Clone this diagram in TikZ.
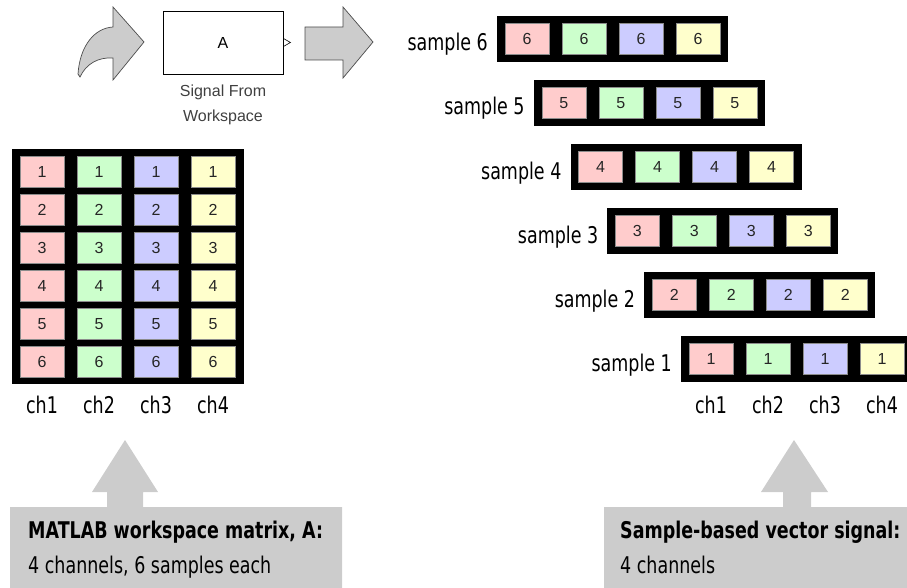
\documentclass[tikz,border=0pt]{standalone}
\usepackage{fontspec}
\setmainfont{Liberation Sans}
\newfontfamily\narrowfont[FakeStretch=0.76]{DejaVu Sans}
\usetikzlibrary{positioning}

\definecolor{chone}{HTML}{FFCCCC}
\definecolor{chtwo}{HTML}{CCFFCC}
\definecolor{chthree}{HTML}{CCCCFF}
\definecolor{chfour}{HTML}{FFFFCC}
\definecolor{notegray}{HTML}{CCCCCC}

\tikzset{
  cell/.style={draw=black!45, line width=0.6pt, minimum width=44pt, minimum height=31pt,
    inner sep=0pt, font=\fontsize{16}{16}\selectfont, text=black!85},
  lbl/.style={font=\narrowfont\fontsize{23}{26}\selectfont, inner sep=0pt},
  bigarrow/.style={fill=notegray, draw=black!70, line width=0.7pt},
}

\begin{document}
\begin{tikzpicture}[x=1pt,y=-1pt]

            \useasboundingbox (0,0) rectangle (907,588);

            % top row: arrow, block, arrow
            \draw[bigarrow] (78,74) .. controls (80,45) and (95,28) .. (113,27) -- (113,7) -- (144,42) -- (113,80) -- (113,58) .. controls (98,57) and (86,64) .. (80,77) -- cycle;
            \node[draw, line width=0.9pt, minimum width=120pt, minimum height=63pt, inner sep=0pt,
                  font=\fontsize{16}{16}\selectfont] (sfw) at (223,42.5) {A};
            \draw[line width=0.6pt] ([yshift=4pt]sfw.east) -- ([xshift=7pt]sfw.east) -- ([yshift=-4pt]sfw.east);
            \node[below=10pt of sfw, align=center, inner sep=0pt, text=black!75,
                  font=\fontsize{16}{25}\selectfont] (sfwlabel) {Signal From\\Workspace};
            \draw[bigarrow] (305,27) -- (343,27) -- (343,7) -- (373,42) -- (343,78) -- (343,60) -- (305,60) -- cycle;

            % workspace matrix
            \fill (12,149) rectangle (244,384);
            \foreach \c [count=\i] in {chone,chtwo,chthree,chfour}{
                \foreach \r in {1,...,6}{
                    \node[cell, fill=\c] (m\r\i) at ({42+57*(\i-1)},{172+38*(\r-1)}) {\r};
                }
                \node[lbl, anchor=base] (mch\i) at ({42+57*(\i-1)},413) {ch\i};
            }

            % sample vectors
            \foreach \k in {1,...,6}{
                \pgfmathsetmacro\vx{497+36.8*(6-\k)}
                \pgfmathsetmacro\vy{16+64*(6-\k)}
                \fill (\vx,\vy) rectangle ++(231,46);
                \node[lbl, anchor=base east] (s\k) at ({\vx-9},{\vy+35}) {sample \k};
                \foreach \c [count=\i] in {chone,chtwo,chthree,chfour}{
                    \node[cell, fill=\c] (v\k\i) at ({\vx+30+57*(\i-1)},{\vy+23}) {\k};
                }
            }
            \foreach \i in {1,...,4}{
                \node[lbl, anchor=base] (vch\i) at ({711+57*(\i-1)},413) {ch\i};
            }

            % notes
            \fill[notegray] (10,588) -- (10,507) -- (107,507) -- (107,492) -- (92,492) -- (125,440) -- (158,492) -- (143,492) -- (143,507) -- (342,507) -- (342,588) -- cycle;
            \node[lbl, anchor=base west] (mattitle) at (28,538) {\bfseries MATLAB workspace matrix, A:};
            \node[lbl, anchor=base west] (matnote) at (28,573) {4 channels, 6 samples each};

            \fill[notegray] (604,588) -- (604,507) -- (783,507) -- (783,492) -- (761,492) -- (794,440) -- (828,492) -- (811,492) -- (811,507) -- (907,507) -- (907,588) -- cycle;
            \node[lbl, anchor=base west] (vectitle) at (620,538) {\bfseries Sample-based vector signal:};
            \node[lbl, anchor=base west] (vecnote) at (620,573) {4 channels};

        \end{tikzpicture}
\end{document}
